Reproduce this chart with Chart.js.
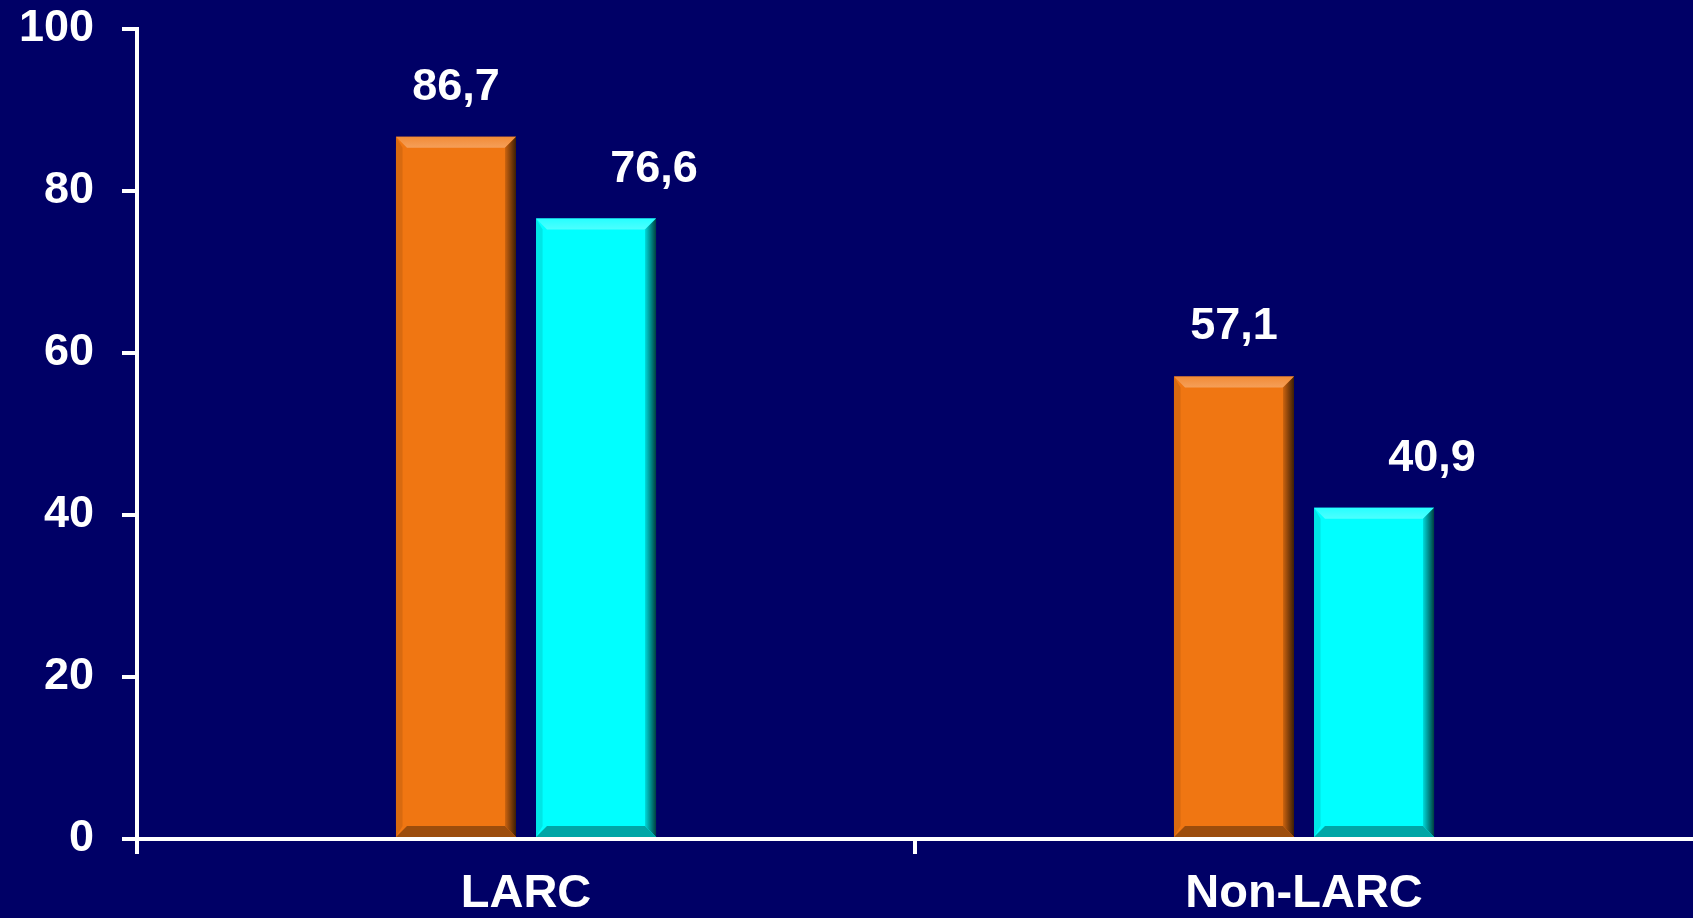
<!DOCTYPE html>
<html>
<head>
<meta charset="utf-8">
<script src="https://cdn.jsdelivr.net/npm/chart.js@4/dist/chart.umd.min.js"></script>
<style>
  html, body { margin: 0; padding: 0; background: #000066; }
  #wrap { width: 1693px; height: 918px; }
</style>
</head>
<body>
<div id="wrap"><canvas id="chart" width="1693" height="918"></canvas></div>
<script>
  // data
  var categories = ["LARC", "Non-LARC"];
  var seriesNames = ["Serie 1", "Serie 2"];
  var serie1 = [86.7, 57.1];
  var serie2 = [76.6, 40.9];
  var yTicks = [0, 20, 40, 60, 80, 100];

  var orange = "#f07612";
  var cyan = "#00ffff";
  var labelShift = [0, 58]; // cyan labels sit right of the bar

  function shade(hex, amt) {
    var n = parseInt(hex.slice(1), 16);
    var r = (n >> 16) & 255, g = (n >> 8) & 255, b = n & 255;
    function f(c) {
      if (amt > 0) return Math.round(c + (255 - c) * amt);
      return Math.round(c * (1 + amt));
    }
    return "rgb(" + f(r) + "," + f(g) + "," + f(b) + ")";
  }

  // bevel look on each bar, drawn over the bar elements
  var bevelPlugin = {
    id: "bevel",
    afterDatasetsDraw: function(chart) {
      var ctx = chart.ctx;
      chart.data.datasets.forEach(function(ds, i) {
        var meta = chart.getDatasetMeta(i);
        var col = ds.backgroundColor;
        meta.data.forEach(function(el) {
          var p = el.getProps(["x", "y", "base", "width"], true);
          var l = p.x - p.width / 2, r = p.x + p.width / 2, t = p.y, b = p.base;
          var s = 11;
          ctx.save();
          // top light
          var gt = ctx.createLinearGradient(0, t, 0, t + s);
          gt.addColorStop(0, shade(col, 0.15));
          gt.addColorStop(1, shade(col, 0.3));
          ctx.fillStyle = gt;
          ctx.beginPath();
          ctx.moveTo(l, t); ctx.lineTo(r, t); ctx.lineTo(r - s, t + s); ctx.lineTo(l + s, t + s);
          ctx.closePath(); ctx.fill();
          // left slightly dark
          ctx.fillStyle = shade(col, -0.1);
          ctx.beginPath();
          ctx.moveTo(l, t); ctx.lineTo(l + s * 0.6, t + s); ctx.lineTo(l + s * 0.6, b - s); ctx.lineTo(l, b);
          ctx.closePath(); ctx.fill();
          // right dark gradient
          var g = ctx.createLinearGradient(r - s, 0, r, 0);
          g.addColorStop(0, shade(col, -0.15));
          g.addColorStop(1, shade(col, -0.75));
          ctx.fillStyle = g;
          ctx.beginPath();
          ctx.moveTo(r, t); ctx.lineTo(r, b); ctx.lineTo(r - s, b - s); ctx.lineTo(r - s, t + s);
          ctx.closePath(); ctx.fill();
          // bottom dark
          ctx.fillStyle = shade(col, -0.35);
          ctx.beginPath();
          ctx.moveTo(l, b); ctx.lineTo(r, b); ctx.lineTo(r - s, b - s); ctx.lineTo(l + s, b - s);
          ctx.closePath(); ctx.fill();
          ctx.restore();
        });
      });
    }
  };

  // value labels above bars, with decimal comma
  var valuePlugin = {
    id: "values",
    afterDatasetsDraw: function(chart) {
      var ctx = chart.ctx;
      ctx.save();
      ctx.fillStyle = "#ffffff";
      ctx.font = "bold 45px 'Liberation Sans', Arial, sans-serif";
      ctx.textAlign = "center";
      ctx.textBaseline = "alphabetic";
      chart.data.datasets.forEach(function(ds, i) {
        var meta = chart.getDatasetMeta(i);
        meta.data.forEach(function(el, j) {
          var txt = ds.data[j].toFixed(1).replace(".", ",");
          ctx.fillText(txt, el.x + labelShift[i], el.y - 37);
        });
      });
      ctx.restore();
    }
  };

  var ctx = document.getElementById("chart").getContext("2d");
  var chart = new Chart(ctx, {
    type: "bar",
    data: {
      labels: categories,
      datasets: [{
        label: seriesNames[0],
        data: serie1,
        backgroundColor: orange,
        borderWidth: 0,
        barPercentage: 0.857,
        categoryPercentage: 0.36
      }, {
        label: seriesNames[1],
        data: serie2,
        backgroundColor: cyan,
        borderWidth: 0,
        barPercentage: 0.857,
        categoryPercentage: 0.36
      }]
    },
    options: {
      responsive: false,
      animation: false,
      layout: { padding: { top: 29, right: 0, left: 0, bottom: 0 } },
      plugins: {
        legend: { display: false },
        tooltip: { enabled: false }
      },
      scales: {
        x: {
          offset: true,
          grid: {
            offset: true,
            drawOnChartArea: false,
            // no tick mark at the far right end
            color: function(c) { return c.type === "tick" ? "#ffffff" : "rgba(0,0,0,0)"; },
            lineWidth: 4,
            tickLength: 15
          },
          border: { color: "#ffffff", width: 4 },
          ticks: {
            color: "#ffffff",
            padding: 12,
            font: { family: "'Liberation Sans', Arial, sans-serif", size: 47, weight: "bold" }
          },
          afterFit: function(scale) { scale.height = 79; }
        },
        y: {
          min: 0,
          max: 100,
          afterBuildTicks: function(scale) {
            scale.ticks = yTicks.map(function(v) { return { value: v }; });
          },
          grid: {
            drawOnChartArea: false,
            color: "#ffffff",
            lineWidth: 4,
            tickLength: 15
          },
          border: { color: "#ffffff", width: 4 },
          ticks: {
            color: "#ffffff",
            padding: 28,
            font: { family: "'Liberation Sans', Arial, sans-serif", size: 45, weight: "bold" }
          },
          afterFit: function(scale) {
            scale.width = 137;
            scale.paddingTop = 0;
          }
        }
      }
    },
    plugins: [bevelPlugin, valuePlugin]
  });
</script>
</body>
</html>
